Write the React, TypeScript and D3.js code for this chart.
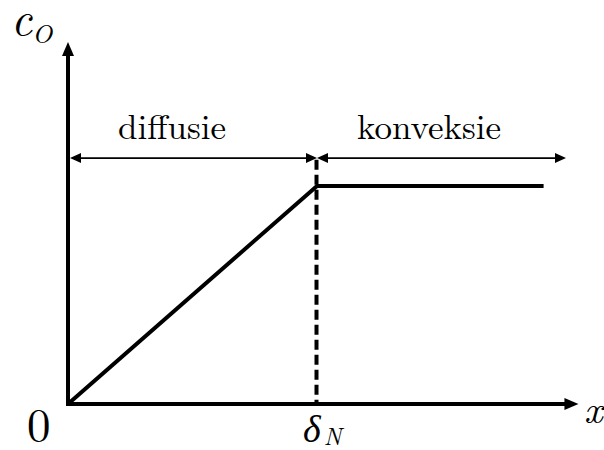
import React from "react";
import * as d3 from "d3";

// Concentration profile: linear through the Nernst layer, constant beyond it
const profileX = [0, 1, 1.91];
const profileC = [0, 1, 1];

// Region labels and the spans their double arrows cover
const regionLabels = ["diffusie", "konveksie"];
const regionSpans: [number, number][] = [
  [0, 1],
  [1, 2.0],
];

const W = 604;
const H = 450;

const xScale = d3.scaleLinear().domain([0, 1]).range([68, 317]);
const yScale = d3.scaleLinear().domain([0, 1]).range([404, 186]);

const xAxisEnd = 2.05;
const yAxisEnd = 1.66;
const dashTop = 1.12;
const arrowLevel = 1.128;

const serif = "'Latin Modern Roman', 'CMU Serif', 'Liberation Serif', serif";

function Head({ x, y, dir, len, half }: { x: number; y: number; dir: "left" | "right" | "up"; len: number; half: number }) {
  let pts: [number, number][];
  if (dir === "right") pts = [[x, y], [x - len, y - half], [x - len, y + half]];
  else if (dir === "left") pts = [[x, y], [x + len, y - half], [x + len, y + half]];
  else pts = [[x, y], [x - half, y + len], [x + half, y + len]];
  return <polygon points={pts.map((p) => p.join(",")).join(" ")} fill="#000" />;
}

export default function App() {
  const line = d3
    .line<number>()
    .x((_, i) => xScale(profileX[i]))
    .y((d) => yScale(d));
  const x0 = xScale(0);
  const y0 = yScale(0);
  const ya = yScale(arrowLevel);

  return (
    <svg width={W} height={H} style={{ position: "absolute", left: 0, top: 0, background: "#fff" }}>
      {/* axes */}
      <line x1={x0} y1={y0} x2={xScale(xAxisEnd) - 12} y2={y0} stroke="#000" strokeWidth={4} />
      <Head x={xScale(xAxisEnd)} y={y0} dir="right" len={14} half={6} />
      <line x1={x0} y1={y0 + 2} x2={x0} y2={yScale(yAxisEnd) + 12} stroke="#000" strokeWidth={4} />
      <Head x={x0} y={yScale(yAxisEnd)} dir="up" len={14} half={6} />

      {/* boundary of the diffusion layer */}
      <line
        x1={xScale(1) - 0.5}
        y1={yScale(dashTop)}
        x2={xScale(1) - 0.5}
        y2={y0}
        stroke="#000"
        strokeWidth={4}
        strokeDasharray="10,5"
      />

      {/* profile */}
      <path d={line(profileC) ?? ""} fill="none" stroke="#000" strokeWidth={4} strokeLinejoin="miter" />

      {/* region arrows and labels */}
      {regionSpans.map(([a, b], i) => {
        const xa = xScale(a) + (i === 0 ? 2 : 0);
        const xb = xScale(b);
        return (
          <g key={i}>
            <line x1={xa + 8} y1={ya} x2={xb - 8} y2={ya} stroke="#000" strokeWidth={1.6} />
            <Head x={xa} y={ya} dir="left" len={11} half={5} />
            <Head x={xb} y={ya} dir="right" len={11} half={5} />
            <text
              x={i === 0 ? 172 : 429}
              y={139}
              textAnchor="middle"
              style={{ fontFamily: serif }}
              fontSize={35}
            >
              {regionLabels[i]}
            </text>
          </g>
        );
      })}

      {/* axis labels */}
      <text x={11} y={35} style={{ fontFamily: serif, fontStyle: "italic" }} fontSize={46}>
        c
        <tspan fontSize={26} dy={8}>O</tspan>
      </text>
      <text x={27} y={441} style={{ fontFamily: serif }} fontSize={47}>
        0
      </text>
      <text x={xScale(1) - 14} y={442} style={{ fontFamily: serif, fontStyle: "italic" }} fontSize={38}>
        δ
        <tspan fontSize={24} dx={3} dy={3}>N</tspan>
      </text>
      <text x={584} y={423} style={{ fontFamily: serif, fontStyle: "italic" }} fontSize={40}>
        x
      </text>
    </svg>
  );
}
